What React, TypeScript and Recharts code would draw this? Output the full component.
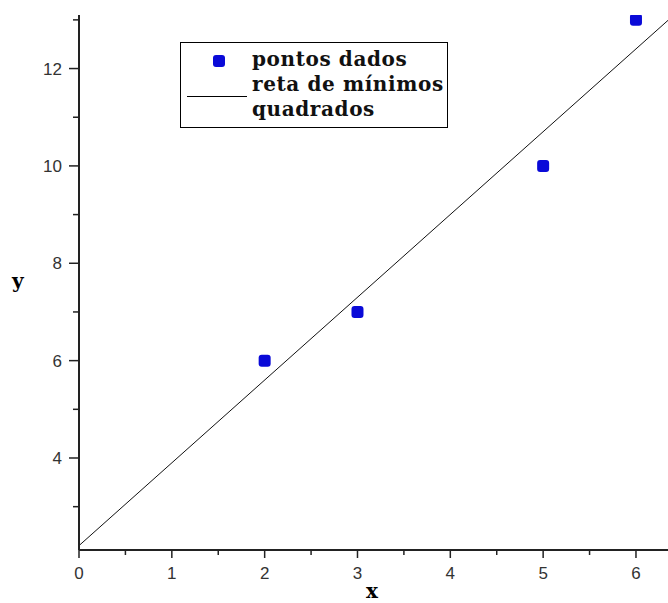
import React from 'react';
import { ComposedChart, Scatter, Line, XAxis, YAxis } from 'recharts';

// data points
const pointX = [2, 3, 5, 6];
const pointY = [6, 7, 10, 13];
// least-squares line endpoints
const lineX = [0, 6.345];
const lineY = [2.2, 12.99];
// tick values
const xTicks = [0, 0.5, 1, 1.5, 2, 2.5, 3, 3.5, 4, 4.5, 5, 5.5, 6];
const yTicks = [3, 4, 5, 6, 7, 8, 9, 10, 11, 12, 13];
const xMajor = [0, 1, 2, 3, 4, 5, 6];
const yMajor = [4, 6, 8, 10, 12];

const points = pointX.map((x, i) => ({ x, y: pointY[i] }));
const fitLine = lineX.map((x, i) => ({ x, y: lineY[i] }));

const tickFont = '"Liberation Sans", Arial, sans-serif';

const XTick = (props: any) => {
  const { x, y, payload } = props;
  const major = xMajor.includes(payload.value);
  return (
    <g>
      <line x1={x} y1={y} x2={x} y2={y + (major ? 8 : 5)} stroke="#222" strokeWidth={1.5} />
      {major && (
        <text x={x} y={y + 29} textAnchor="middle" fontFamily={tickFont} fontSize={17} fill="#333">
          {payload.value}
        </text>
      )}
    </g>
  );
};

const YTick = (props: any) => {
  const { x, y, payload } = props;
  const major = yMajor.includes(payload.value);
  return (
    <g>
      <line x1={x - (major ? 10 : 6)} y1={y} x2={x} y2={y} stroke="#222" strokeWidth={1.5} />
      {major && (
        <text x={x - 17} y={y + 6} textAnchor="end" fontFamily={tickFont} fontSize={17} fill="#333">
          {payload.value}
        </text>
      )}
    </g>
  );
};

const Marker = (props: any) => {
  const { cx, cy } = props;
  return <rect x={cx - 6} y={cy - 6} width={12} height={12} rx={3} ry={3} fill="#0a0ad8" />;
};

const serif = '"DejaVu Serif", "Liberation Serif", serif';

export default function App() {
  return (
    <div style={{ position: 'absolute', left: 0, top: 0, width: 668, height: 603, background: '#fff' }}>
      <ComposedChart width={668} height={603} margin={{ top: 15, right: 0, left: 0, bottom: 0 }}>
        <XAxis
          type="number"
          dataKey="x"
          domain={[0, 6.345]}
          ticks={xTicks}
          allowDataOverflow
          height={53}
          tickSize={0}
          tickMargin={0}
          tickLine={false}
          axisLine={{ stroke: '#222', strokeWidth: 2 }}
          tick={<XTick />}
          interval={0}
        />
        <YAxis
          type="number"
          dataKey="y"
          domain={[2.11, 13.1]}
          ticks={yTicks}
          allowDataOverflow
          width={79}
          tickSize={0}
          tickMargin={0}
          tickLine={false}
          axisLine={{ stroke: '#222', strokeWidth: 2 }}
          tick={<YTick />}
          interval={0}
        />
        <Line
          data={fitLine}
          dataKey="y"
          type="linear"
          stroke="#111"
          strokeWidth={1}
          dot={false}
          isAnimationActive={false}
        />
        <Scatter data={points} dataKey="y" shape={<Marker />} isAnimationActive={false} />
      </ComposedChart>
      <div
        style={{
          position: 'absolute', left: 366, top: 580, fontFamily: serif, fontWeight: 'bold', fontSize: 20, lineHeight: '22px',
        }}
      >
        x
      </div>
      <div
        style={{
          position: 'absolute', left: 12, top: 271, fontFamily: serif, fontWeight: 'bold', fontSize: 20, lineHeight: '20px',
        }}
      >
        y
      </div>
      <div
        style={{
          position: 'absolute', left: 180, top: 42, width: 266, height: 84, border: '1px solid #000', background: '#fff',
          fontFamily: serif, fontWeight: 'bold', fontSize: 20, letterSpacing: '0.6px', color: '#111',
        }}
      >
        <div style={{ position: 'absolute', left: 32, top: 12, width: 12, height: 12, borderRadius: 3, background: '#0a0ad8' }} />
        <div style={{ position: 'absolute', left: 6, top: 53, width: 60, height: 1, background: '#000' }} />
        <div style={{ position: 'absolute', left: 71, top: 4, lineHeight: '25px', whiteSpace: 'nowrap' }}>
          pontos dados
          <br />
          reta de mínimos
          <br />
          quadrados
        </div>
      </div>
    </div>
  );
}
